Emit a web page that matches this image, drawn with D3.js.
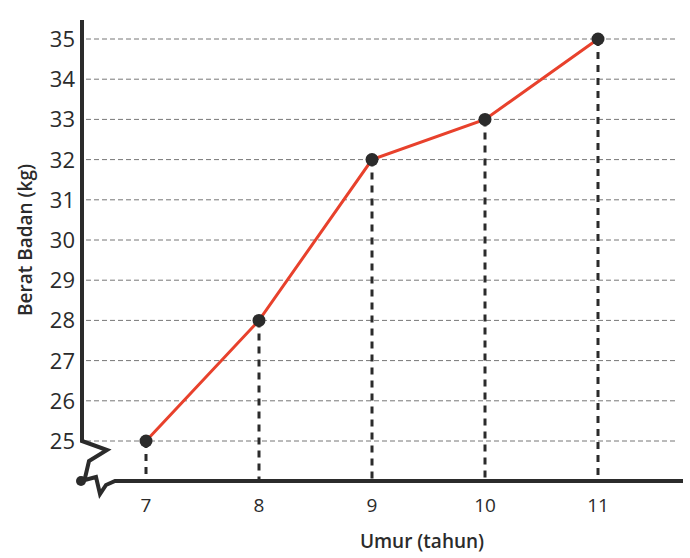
<!DOCTYPE html>
<html><head><meta charset="utf-8">
<script src="https://cdn.jsdelivr.net/npm/d3@7"></script>
<style>body{margin:0;background:#fff}</style>
</head><body>
<svg id="c" width="690" height="558"></svg>
<script>
const ages = [7, 8, 9, 10, 11];
const weights = [25, 28, 32, 33, 35];
const yTicks = [25, 26, 27, 28, 29, 30, 31, 32, 33, 34, 35];

const svg = d3.select("#c");
const x = d3.scaleLinear().domain([7, 11]).range([146, 598]);
const y = d3.scaleLinear().domain([25, 35]).range([441, 39]);
const axisY = 481, ink = "#2b2b2b";

// horizontal grid
svg.append("g").selectAll("line").data(yTicks).enter().append("line")
  .attr("x1", 86).attr("x2", 675)
  .attr("y1", d => y(d)).attr("y2", d => y(d))
  .attr("stroke", "#777").attr("stroke-width", 1).attr("stroke-dasharray", "5,3");

// drop lines
svg.append("g").selectAll("line").data(ages).enter().append("line")
  .attr("x1", d => x(d)).attr("x2", d => x(d))
  .attr("y1", (d, i) => y(weights[i])).attr("y2", axisY)
  .attr("stroke", ink).attr("stroke-width", 3).attr("stroke-dasharray", "7,6");

// axes with break
svg.append("path")
  .attr("d", `M82,20 L82,${y(25)} L107,450 L89,461 L85,478 L81,481`)
  .attr("fill", "none").attr("stroke", ink).attr("stroke-width", 4).attr("stroke-linejoin", "miter");
svg.append("path")
  .attr("d", `M81,481 L96,477 L100,494 L106,485 L115,481 L683,481`)
  .attr("fill", "none").attr("stroke", ink).attr("stroke-width", 4);
svg.append("circle").attr("cx", 81).attr("cy", 481).attr("r", 5).attr("fill", ink);

// y tick labels
svg.append("g").selectAll("text").data(yTicks).enter().append("text")
  .attr("x", 75).attr("y", d => y(d) + 8).attr("text-anchor", "end")
  .attr("font-family", "Open Sans").attr("font-size", 22).attr("fill", ink)
  .text(d => d);
// x tick labels
svg.append("g").selectAll("text").data(ages).enter().append("text")
  .attr("x", d => x(d)).attr("y", 512).attr("text-anchor", "middle")
  .attr("font-family", "Open Sans").attr("font-size", 19).attr("fill", ink)
  .text(d => d);

// line + points
svg.append("path").datum(ages)
  .attr("d", d3.line().x(d => x(d)).y((d, i) => y(weights[i])))
  .attr("fill", "none").attr("stroke", "#e8412c").attr("stroke-width", 3);
svg.append("g").selectAll("circle").data(ages).enter().append("circle")
  .attr("cx", d => x(d)).attr("cy", (d, i) => y(weights[i])).attr("r", 6.5).attr("fill", ink);

// titles
svg.append("text").attr("x", 422).attr("y", 548).attr("text-anchor", "middle")
  .attr("font-family", "Open Sans").attr("font-weight", 600).attr("font-size", 19).attr("fill", ink)
  .text("Umur (tahun)");
svg.append("text").attr("transform", "translate(32,240) rotate(-90)").attr("text-anchor", "middle")
  .attr("font-family", "Open Sans").attr("font-weight", 600).attr("font-size", 19).attr("fill", ink)
  .text("Berat Badan (kg)");
</script>
</body></html>
